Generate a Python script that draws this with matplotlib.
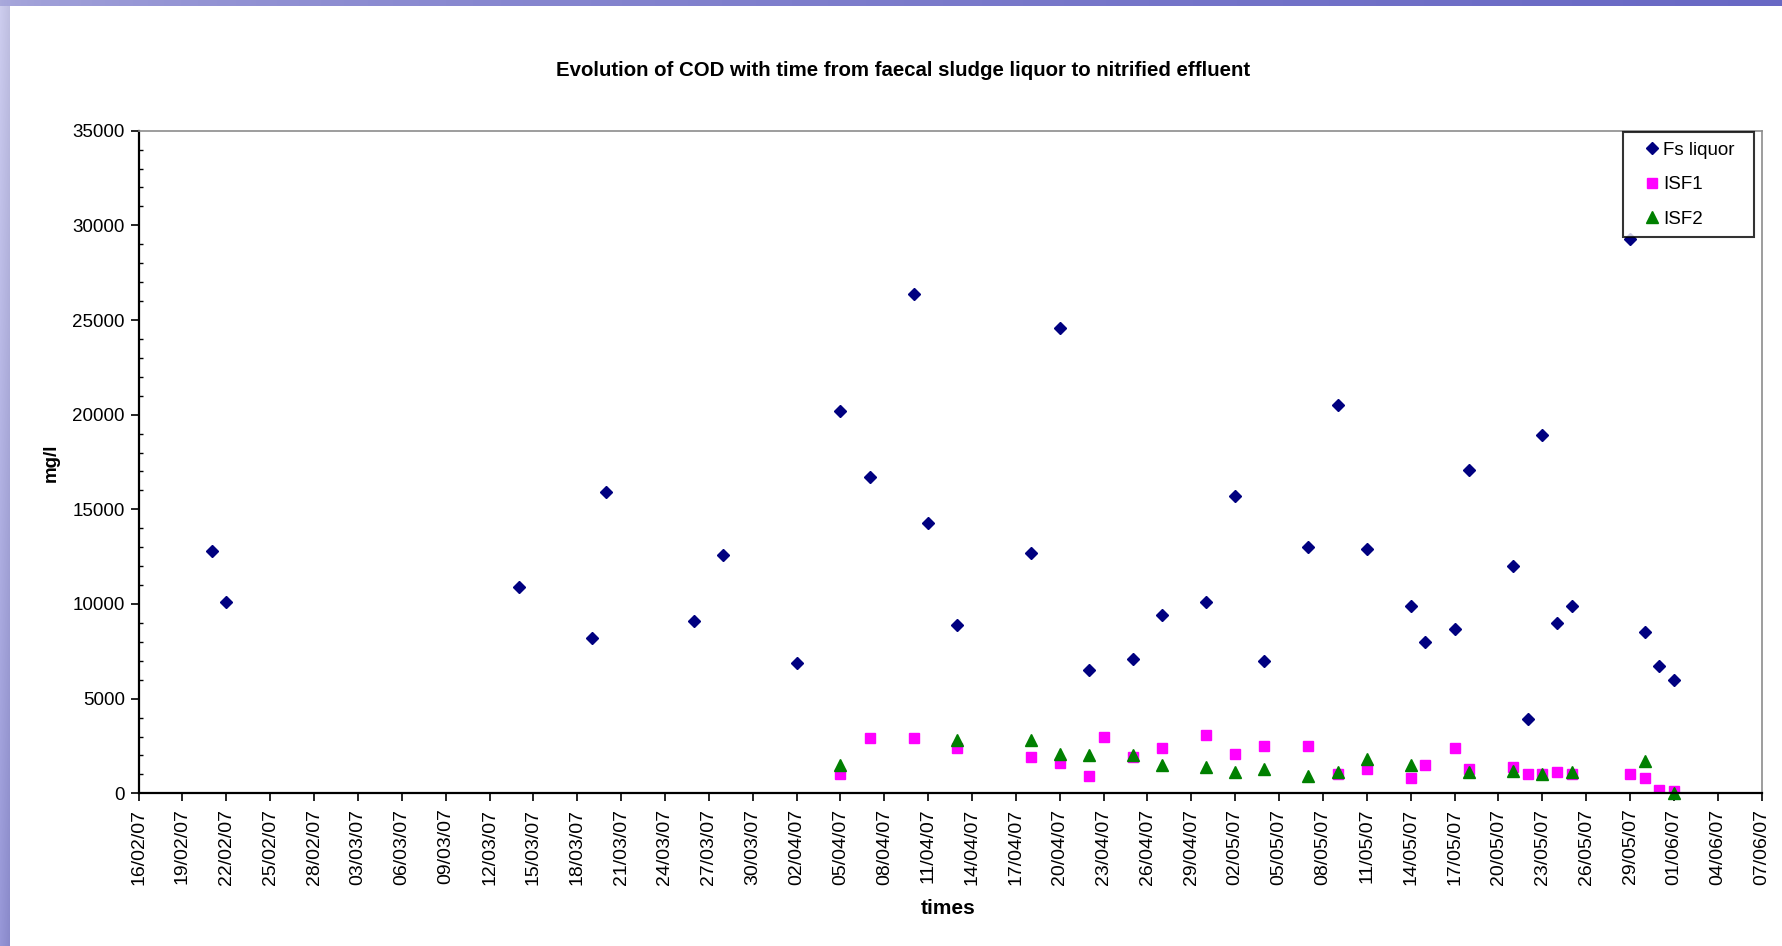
import matplotlib
matplotlib.use("Agg")
import matplotlib.pyplot as plt
import matplotlib.dates as mdates
import numpy as np
import pandas as pd

# COD measurements (mg/l)
fsDates = ["2007-02-21", "2007-02-22", "2007-03-14", "2007-03-19", "2007-03-20", "2007-03-26",
           "2007-03-28", "2007-04-02", "2007-04-05", "2007-04-07", "2007-04-10", "2007-04-11",
           "2007-04-13", "2007-04-18", "2007-04-20", "2007-04-22", "2007-04-25", "2007-04-27",
           "2007-04-30", "2007-05-02", "2007-05-04", "2007-05-07", "2007-05-09", "2007-05-11",
           "2007-05-14", "2007-05-15", "2007-05-17", "2007-05-18", "2007-05-21", "2007-05-22",
           "2007-05-23", "2007-05-24", "2007-05-25", "2007-05-29", "2007-05-30", "2007-05-31",
           "2007-06-01"]
fsCod = [12800, 10100, 10900, 8200, 15900, 9100, 12600, 6900, 20200, 16700, 26400, 14300,
         8900, 12700, 24600, 6500, 7100, 9400, 10100, 15700, 7000, 13000, 20500, 12900,
         9900, 8000, 8700, 17100, 12000, 3900, 18900, 9000, 9900, 29300, 8500, 6700, 6000]

isf1Dates = ["2007-04-05", "2007-04-07", "2007-04-10", "2007-04-13", "2007-04-18", "2007-04-20",
             "2007-04-22", "2007-04-23", "2007-04-25", "2007-04-27", "2007-04-30", "2007-05-02",
             "2007-05-04", "2007-05-07", "2007-05-09", "2007-05-11", "2007-05-14", "2007-05-15",
             "2007-05-17", "2007-05-18", "2007-05-21", "2007-05-22", "2007-05-23", "2007-05-24",
             "2007-05-25", "2007-05-29", "2007-05-30", "2007-05-31", "2007-06-01"]
isf1Cod = [1000, 2900, 2900, 2400, 1900, 1600, 900, 3000, 1900, 2400, 3100, 2100,
           2500, 2500, 1000, 1300, 800, 1500, 2400, 1300, 1400, 1000, 1000, 1100,
           1000, 1000, 800, 200, 100]

isf2Dates = ["2007-04-05", "2007-04-13", "2007-04-18", "2007-04-20", "2007-04-22", "2007-04-25",
             "2007-04-27", "2007-04-30", "2007-05-02", "2007-05-04", "2007-05-07", "2007-05-09",
             "2007-05-11", "2007-05-14", "2007-05-18", "2007-05-21", "2007-05-23", "2007-05-25",
             "2007-05-30", "2007-06-01"]
isf2Cod = [1500, 2800, 2800, 2100, 2000, 2000, 1500, 1400, 1100, 1300, 900, 1100,
           1800, 1500, 1100, 1200, 1000, 1100, 1700, 0]

startDate = "2007-02-16"
endDate = "2007-06-07"

plt.rcParams['font.family'] = ['Liberation Sans', 'DejaVu Sans']

W, H = 1782, 946
fig = plt.figure(figsize=(W / 100.0, H / 100.0), dpi=100)
fig.patch.set_facecolor("white")

# slide background strips (left and top edges)
bgAxe = fig.add_axes([0, 0, 1, 1], zorder=-10)
bgAxe.set_xlim(0, W)
bgAxe.set_ylim(H, 0)
bgAxe.axis("off")
leftStrip = np.zeros((H, 10, 3))
shade = np.linspace(0.0, 1.0, H)[:, None]
edge = np.linspace(0.0, 1.0, 10)[None, :]
top = np.array([205, 205, 238]) / 255.0
bottom = np.array([150, 150, 215]) / 255.0
for c in range(3):
    leftStrip[:, :, c] = top[c] + (bottom[c] - top[c]) * shade - 0.05 * edge
bgAxe.imshow(np.clip(leftStrip, 0, 1), extent=(0, 10, H, 0), aspect="auto")
topStrip = np.zeros((6, W, 3))
run = np.linspace(0.0, 1.0, W)[None, :]
lft = np.array([170, 170, 220]) / 255.0
rgt = np.array([104, 104, 196]) / 255.0
for c in range(3):
    topStrip[:, :, c] = lft[c] + (rgt[c] - lft[c]) * np.sqrt(run)
bgAxe.imshow(topStrip, extent=(0, W, 6, 0), aspect="auto")

left, right = 138.6 / W, 1761.6 / W
bot, tp = 1 - 793.3 / H, 1 - 130.7 / H
codAxe = fig.add_axes([left, bot, right - left, tp - bot])

codAxe.plot(pd.to_datetime(fsDates), fsCod, ls="none", marker="D", ms=6.5,
            color="#000080", label="Fs liquor")
codAxe.plot(pd.to_datetime(isf1Dates), isf1Cod, ls="none", marker="s", ms=7,
            color="#FF00FF", label="ISF1")
codAxe.plot(pd.to_datetime(isf2Dates), isf2Cod, ls="none", marker="^", ms=8,
            color="#008000", label="ISF2", clip_on=False)

codAxe.set_xlim(pd.Timestamp(startDate), pd.Timestamp(endDate))
codAxe.set_ylim(0, 35000)
codAxe.set_xticks(pd.date_range(startDate, endDate, freq="3D"))
codAxe.xaxis.set_major_formatter(mdates.DateFormatter("%d/%m/%y"))
codAxe.set_yticks(np.arange(0, 35001, 5000))
codAxe.set_yticks(np.arange(0, 35001, 1000), minor=True)

codAxe.tick_params(axis="x", which="major", direction="out", length=6, width=1.2,
                   labelsize=14, rotation=90, pad=5)
codAxe.tick_params(axis="y", which="major", direction="out", length=6, width=1.2,
                   labelsize=13.5, pad=4)
codAxe.tick_params(axis="y", which="minor", direction="in", length=3, width=1)

for side in ["left", "bottom"]:
    codAxe.spines[side].set_color("black")
    codAxe.spines[side].set_linewidth(1.6)
for side in ["top", "right"]:
    codAxe.spines[side].set_color("#8c8c8c")
    codAxe.spines[side].set_linewidth(1.2)

axW = 1761.6 - 138.6
axH = 793.3 - 130.7
legBox = ((1623 - 138.6) / axW, 0.5, 131.0 / axW, 1 - (132 - 130.7) / axH - 0.5)
leg = codAxe.legend(loc="upper left", bbox_to_anchor=legBox, mode="expand",
                    frameon=True, fancybox=False, shadow=False, fontsize=13.5,
                    handletextpad=-0.46, handlelength=2.1, borderpad=0.5, labelspacing=0.94,
                    borderaxespad=0.0)
leg.get_frame().set_edgecolor("black")
leg.get_frame().set_linewidth(1.5)

fig.text(903.0 / W, 1 - 71.0 / H, "Evolution of COD with time from faecal sludge liquor to nitrified effluent",
         ha="center", va="center", fontsize=14.7, fontweight="bold")
fig.text(948.0 / W, 1 - 908.0 / H, "times", ha="center", va="center", fontsize=15, fontweight="bold")
fig.text(51.0 / W, 1 - 463.0 / H, "mg/l", ha="center", va="center", rotation=90,
         fontsize=13.5, fontweight="bold")

fig.savefig("out.png", dpi=100)
